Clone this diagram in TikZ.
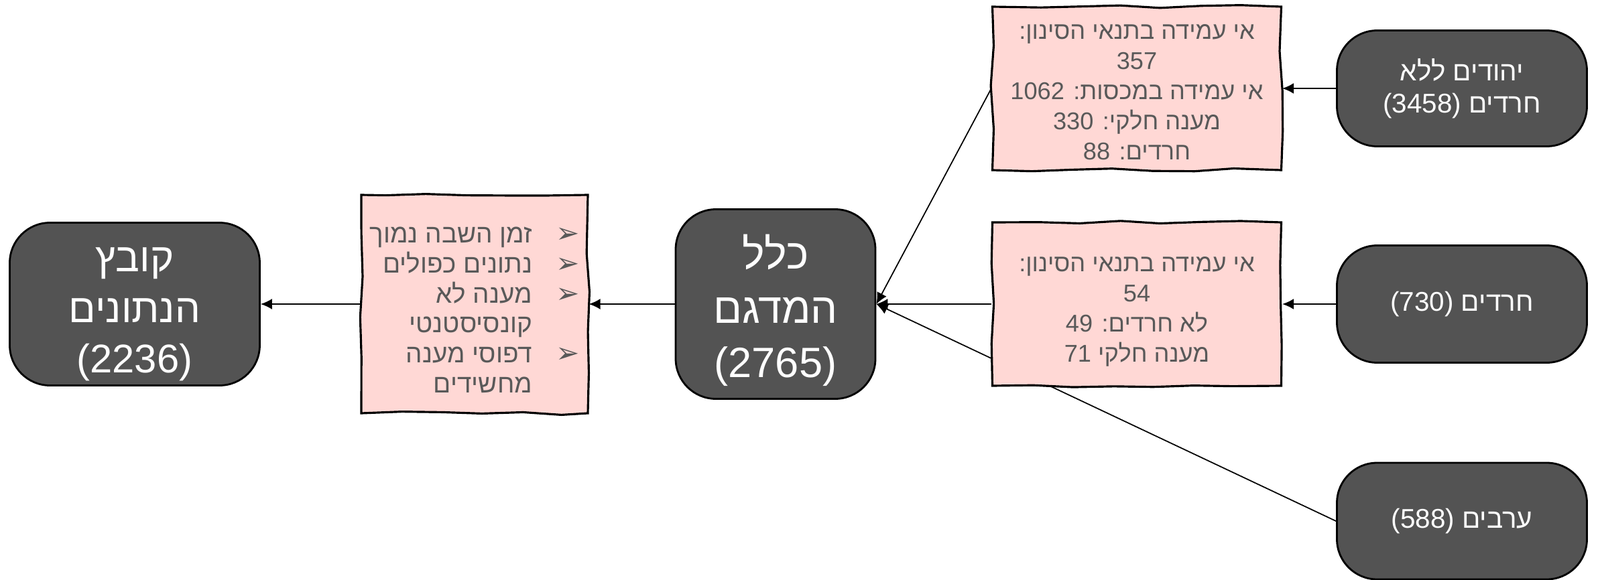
\documentclass[tikz,border=0pt]{standalone}
\usepackage{fontspec}
\setmainfont[Script=Hebrew]{Liberation Sans}
\newfontfamily\symfont{DejaVu Sans}
\usepackage{tikz}
\usetikzlibrary{shapes.geometric, arrows.meta, decorations.pathmorphing}
\pgfdeclarelayer{background}
\pgfsetlayers{background,main}
\TeXXeTstate=1
\definecolor{blobgray}{HTML}{535353}
\definecolor{notepink}{HTML}{FFD8D5}
\definecolor{notetext}{HTML}{595959}
\newcommand{\heb}[1]{\beginR #1\endR}
\newcommand{\ltr}[1]{\beginL #1\endL{}}
\newcommand{\bul}{{\symfont\fontsize{12}{12}\selectfont ➢}}
\newcommand{\lift}[1]{\rule{0pt}{#1}}
\tikzstyle{sketch}    = [decorate, decoration={random steps, segment length=6mm, amplitude=.25mm}]
\tikzstyle{blob}      = [rectangle, rounded corners=.6cm, inner sep=0pt, draw=black, line width=.8pt, fill=blobgray, text=white, align=center]
\tikzstyle{note}      = [rectangle, minimum width=4.31cm, minimum height=2.44cm, inner sep=0pt, draw=black, line width=.9pt, fill=notepink, text=notetext, align=center, font=\fontsize{10.3}{12.8}\selectfont, sketch]
\tikzstyle{arrow}     = [line width=.5pt, -{Latex[length=1.7mm, width=1.6mm]}]

\begin{document}
\begin{tikzpicture}[node distance=1cm]
    \useasboundingbox (0,0) rectangle (23.87,8.65);
    \node (D) [blob, minimum width=3.73cm, minimum height=2.43cm, font=\fontsize{17}{21.5}\selectfont] at (2.01,4.11)
          {\lift{19pt}\heb{קובץ}\\ \heb{הנתונים}\\ \ltr{(2236)}};
    \node (F) [note, right of=D, xshift=4.07cm, minimum width=3.38cm, minimum height=3.26cm, font=\fontsize{11}{12.7}\selectfont, text height=47pt, text depth=35pt]
          {\begin{tabular}{@{}r@{\hspace{3.5mm}}c@{}}
             \heb{זמן השבה נמוך} & \bul \\
             \heb{נתונים כפולים} & \bul \\
             \heb{מענה לא} & \bul \\
             \heb{קונסיסטנטי} & \\
             \heb{דפוסי מענה} & \bul \\
             \heb{מחשידים} & \\
           \end{tabular}};
    \node (S) [blob, right of=F, xshift=3.49cm, minimum width=2.98cm, minimum height=2.83cm, font=\fontsize{18}{23}\selectfont]
          {\lift{20pt}\heb{כלל}\\ \heb{המדגם}\\ \ltr{(2765)}};
    \node (E2) [note, right of=S, xshift=4.39cm]
          {\lift{12.5pt}\heb{אי עמידה בתנאי הסינון:}\\ 54\\ \heb{לא חרדים: 49}\\ \heb{מענה חלקי 71}};
    \node (E1) [note, above of=E2, yshift=2.22cm]
          {\lift{9.5pt}\heb{אי עמידה בתנאי הסינון:}\\ 357\\ \heb{אי עמידה במכסות: 1062}\\ \heb{מענה חלקי: 330}\\ \heb{חרדים: 88}};
    \node (H) [blob, right of=E2, xshift=3.85cm, minimum width=3.73cm, minimum height=1.75cm, font=\fontsize{11.5}{13.6}\selectfont]
          {\heb{חרדים \ltr{(730)}}};
    \node (J) [blob, right of=E1, xshift=3.85cm, minimum width=3.73cm, minimum height=1.73cm, font=\fontsize{11.5}{13.6}\selectfont]
          {\heb{יהודים ללא}\\ \heb{חרדים \ltr{(3458)}}};
    \node (A) [blob, below of=H, yshift=-2.24cm, minimum width=3.73cm, minimum height=1.74cm, font=\fontsize{11.5}{13.6}\selectfont]
          {\heb{ערבים \ltr{(588)}}};

    \begin{pgfonlayer}{background}
    \draw [arrow] (J) -- (E1);
    \draw [arrow] (H) -- (E2);
    \draw [arrow] (E1.west) -- (S.east);
    \draw [arrow] (E2.west) -- (S.east);
    \draw [arrow] (A.west) -- (S.east);
    \draw [arrow] (S) -- (F);
    \draw [arrow] (F) -- (D);
    \end{pgfonlayer}
  \end{tikzpicture}
\end{document}
